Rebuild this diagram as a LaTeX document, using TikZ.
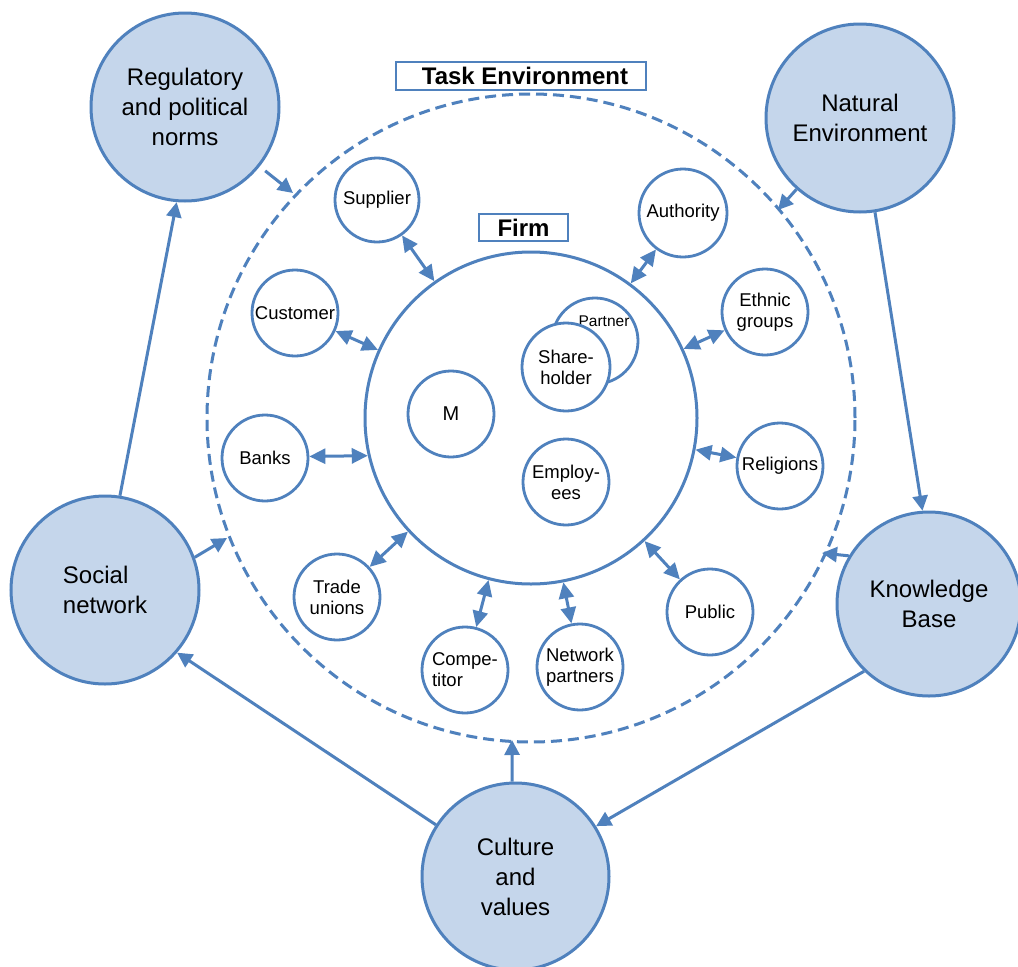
\documentclass[tikz,border=0pt]{standalone}
\usepackage{fontspec}
\setmainfont{Liberation Sans}
\usetikzlibrary{arrows.meta}
\definecolor{lb}{RGB}{79,129,189}
\definecolor{lf}{RGB}{197,214,235}
\begin{document}
\begin{tikzpicture}[x=1pt,y=-1pt,
 big/.style={circle,draw=lb,line width=3pt,fill=lf,minimum size=188pt,inner sep=0pt,align=center,font=\fontsize{24}{30}\selectfont},
 small/.style={circle,draw=lb,line width=2.8pt,fill=white,minimum size=86pt,inner sep=0pt,align=center,font=\fontsize{18.5}{21}\selectfont},
 dbl/.style={draw=lb,line width=3pt,{Triangle[length=16pt,width=15pt]}-{Triangle[length=16pt,width=15pt]}},
 arr/.style={draw=lb,line width=3pt,-{Triangle[length=15pt,width=15pt]}},
 lbox/.style={draw=lb,line width=2.5pt,inner sep=0pt,font=\bfseries\fontsize{24}{26}\selectfont}
]
\useasboundingbox (0,0) rectangle (1018,967);
\fill[white] (0,0) rectangle (1018,967);

% environment circles
\node[circle,draw=lb,line width=3pt,dash pattern=on 11pt off 6pt,minimum size=648pt,inner sep=0pt] (task) at (531,418) {};
\node[circle,draw=lb,line width=3pt,minimum size=332pt,inner sep=0pt] (firm) at (531,418) {};
\node[lbox,minimum width=250pt,minimum height=28pt] (tasklbl) at (521,76) {\hspace*{8pt}Task Environment};
\node[lbox,minimum width=89pt,minimum height=27pt] (firmlbl) at (523.5,227.5) {Firm};

% big circles
\node[big] (reg) at (185,107) {Regulatory\\and political\\norms};
\node[big] (nat) at (860,118) {Natural\\Environment};
\node[big,align=left] (soc) at (105,590) {Social\\network};
\node[big,minimum size=184pt] (kb) at (929,604) {Knowledge\\Base};
\node[big,minimum size=187pt] (cul) at (515.5,876.5) {Culture\\and\\values};

% small circles
\node[small,minimum size=84pt] (sup) at (377,200) {Supplier};
\node[small,minimum size=88pt] (auth) at (683,213) {Authority};
\node[small] (cust) at (295,313) {Customer};
\node[small] (eth) at (765,312) {Ethnic\\groups};
\node[small] (bank) at (265,458) {Banks};
\node[small] (rel) at (780,466) {Religions};
\node[small] (tu) at (337,597) {Trade\\unions};
\node[small] (pub) at (710,612) {Public};
\node[small,align=left] (comp) at (465,670) {Compe-\\titor};
\node[small] (net) at (580,667) {Network\\partners};
\node[small,font=\fontsize{20}{22}\selectfont] (m) at (451,414) {M};
\node[small] (emp) at (566,482) {Employ-\\ees};
\node[small] (part) at (595,341) {};
\node[font=\fontsize{15.5}{17}\selectfont,inner sep=0pt] (partlbl) at (604,321) {Partner};
\node[small,minimum size=88pt] (share) at (566,367) {Share-\\holder};

% task-environment arrows
\draw[dbl] (sup) -- (firm);
\draw[dbl] (cust) -- (firm);
\draw[dbl] (bank.2) -- (firm.193.5);
\draw[dbl] (tu) -- (firm);
\draw[dbl] (comp) -- (firm);
\draw[dbl] (net) -- (firm);
\draw[dbl] (pub) -- (firm);
\draw[dbl] (rel) -- (firm);
\draw[dbl] (eth) -- (firm);
\draw[dbl] (auth) -- (firm);

% general environment arrows
\coordinate (tReg) at (293,193);
\coordinate (tNat) at (778,210);
\coordinate (tKB) at (822,553);
\coordinate (tCul) at (512,740);
\coordinate (tSoc) at (227,538);
\draw[arr,shorten <=7pt] (reg) -- (tReg);
\draw[arr] (nat) -- (tNat);
\draw[arr] (kb.149) -- (tKB);
\draw[arr] (cul.92) -- (tCul);
\draw[arr] (soc.20) -- (tSoc);

\draw[arr] (soc.81) -- (reg.265);
\draw[arr] (nat) -- (kb.94);
\draw[arr] (kb.226) -- (cul.32);
\draw[arr] (cul.147) -- (soc.-41);
\end{tikzpicture}
\end{document}
